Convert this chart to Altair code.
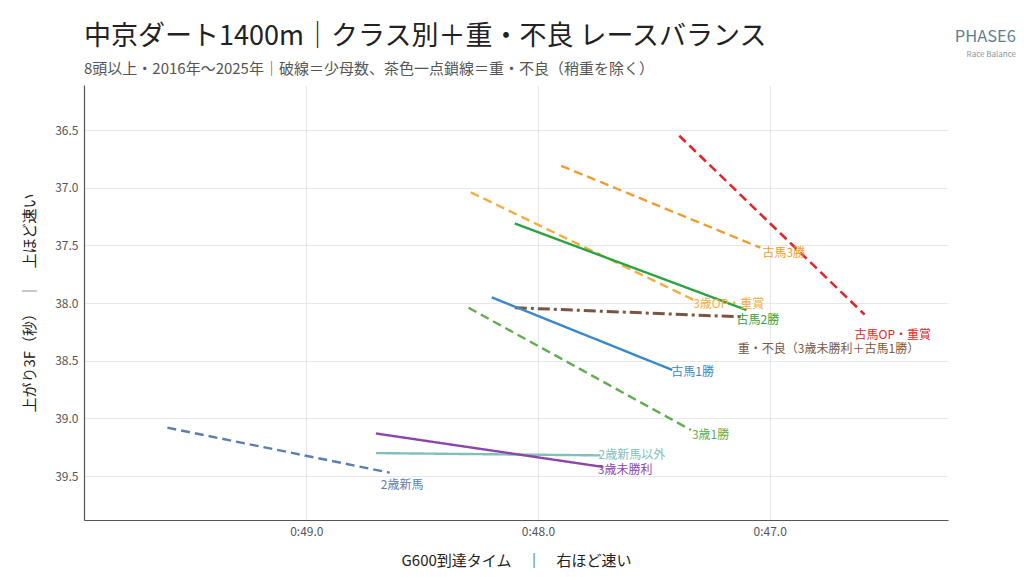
import altair as alt
import pandas as pd

# ---- data ----
series = ["古馬OP・重賞", "古馬3勝", "3歳OP・重賞", "古馬2勝", "重・不良（3歳未勝利＋古馬1勝）",
          "古馬1勝", "3歳1勝", "2歳新馬以外", "3歳未勝利", "2歳新馬"]
x_start = [47.39, 47.90, 48.29, 48.10, 48.10, 48.20, 48.30, 48.70, 48.70, 49.60]
x_end   = [46.59, 47.04, 47.33, 47.10, 47.12, 47.42, 47.34, 47.73, 47.72, 48.64]
y_start = [36.55, 36.81, 37.04, 37.31, 38.04, 37.95, 38.04, 39.30, 39.13, 39.08]
y_end   = [38.10, 37.52, 37.97, 38.06, 38.12, 38.58, 39.10, 39.32, 39.42, 39.47]
x_ticks = [47.0, 48.0, 49.0]
y_ticks = [36.5, 37.0, 37.5, 38.0, 38.5, 39.0, 39.5]

title_text = "中京ダート1400m｜クラス別＋重・不良 レースバランス"
subtitle_text = "8頭以上・2016年〜2025年｜破線＝少母数、茶色一点鎖線＝重・不良（稍重を除く）"

# ---- styles ----
colors = ["#e3262b", "#f29b30", "#f6ad3d", "#2ca343", "#7a5641",
          "#3a88c7", "#5fad4e", "#7fc0bb", "#8e44ad", "#5a7fae"]
dashes = [[9, 5], [9, 5], [9, 5], [1, 0], [12, 4, 3, 4],
          [1, 0], [9, 5], [1, 0], [1, 0], [9, 5]]
widths = [2.6, 2.4, 2.4, 2.4, 3.0, 2.4, 2.4, 2.4, 2.4, 2.4]
label_dx = [-10, 2, 0, -10, -4, -1, 1, -2, -5, -9]
label_dy = [20, 5, 4, 10, 32, 2, 5, 0, 3, 12]

FONT = "Noto Sans CJK JP"

rows = []
for i, s in enumerate(series):
    rows.append({"series": s, "x": x_start[i], "y": y_start[i], "order": 0})
    rows.append({"series": s, "x": x_end[i], "y": y_end[i], "order": 1})
df = pd.DataFrame(rows)

xscale = alt.Scale(domain=[46.23, 49.96], reverse=True, nice=False, zero=False)
yscale = alt.Scale(domain=[36.11, 39.88], reverse=True, nice=False, zero=False)

xaxis = alt.Axis(values=x_ticks, labelExpr="'0:' + format(datum.value, '.1f')",
                 title="G600到達タイム　｜　右ほど速い", grid=True, ticks=False,
                 labelPadding=6, titlePadding=16)
yaxis = alt.Axis(values=y_ticks, format=".1f",
                 title="上がり3F（秒）　｜　上ほど速い", grid=True, ticks=False,
                 labelPadding=6, titlePadding=17)

layers = []
for i, s in enumerate(series):
    sub = df[df.series == s]
    line = alt.Chart(sub).mark_line(
        color=colors[i], strokeDash=dashes[i], strokeWidth=widths[i], strokeCap="butt"
    ).encode(
        x=alt.X("x:Q", scale=xscale, axis=xaxis),
        y=alt.Y("y:Q", scale=yscale, axis=yaxis),
        order="order:Q",
    )
    layers.append(line)

for i, s in enumerate(series):
    end = pd.DataFrame({"series": [s], "x": [x_end[i]], "y": [y_end[i]]})
    txt = alt.Chart(end).mark_text(
        align="left", baseline="middle", dx=label_dx[i], dy=label_dy[i],
        fontSize=12, font=FONT, color=colors[i]
    ).encode(x=alt.X("x:Q", scale=xscale), y=alt.Y("y:Q", scale=yscale), text="series:N")
    layers.append(txt)


def free_text(t, x, y, size, color, align="left"):
    return alt.Chart(pd.DataFrame({"t": [t]})).mark_text(
        align=align, baseline="middle", fontSize=size, font=FONT, color=color
    ).encode(x=alt.value(x), y=alt.value(y), text="t:N")


layers += [
    free_text(title_text, 0, -48, 27, "#222222"),
    free_text(subtitle_text, 0, -16, 15, "#555555"),
    free_text("PHASE6", 932, -48, 16.5, "#5f7f90", "right"),
    free_text("Race Balance", 932, -30, 8, "#7f97a5", "right"),
]

chart = alt.layer(*layers).properties(
    width=864, height=435,
    padding={"left": 76, "top": 77, "right": 68, "bottom": 49},
    autosize=alt.AutoSizeParams(type="none"),
).configure_view(stroke=None).configure_axis(
    gridColor="#e6e8ee", gridWidth=1, domainColor="#555555", domainWidth=1.2,
    labelFont=FONT, labelFontSize=12, labelColor="#555555",
    titleFont=FONT, titleFontSize=15, titleFontWeight="normal", titleColor="#222222",
)

chart.save("out.html", embed_options={"renderer": "svg", "actions": False})
